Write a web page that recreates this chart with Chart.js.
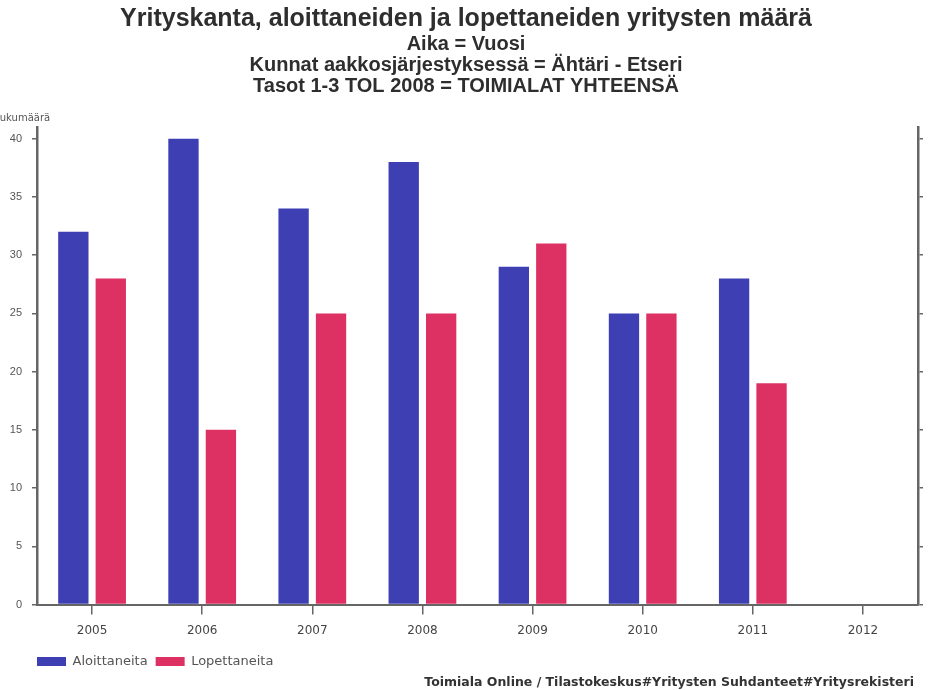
<!DOCTYPE html>
<html>
<head>
<meta charset="utf-8">
<script src="https://cdn.jsdelivr.net/npm/chart.js@4"></script>
<style>
  html, body { margin: 0; padding: 0; background: #fff; }
  #wrap { width: 932px; height: 690px; }
</style>
</head>
<body>
<div id="wrap"><canvas id="chart" width="932" height="690"></canvas></div>
<script>
const years = ["2005", "2006", "2007", "2008", "2009", "2010", "2011", "2012"];
const aloittaneita = [32, 40, 34, 38, 29, 25, 28, null];
const lopettaneita = [28, 15, 25, 25, 31, 25, 19, null];
const yMax = 41;
const yStep = 5;

const titleText = "Yrityskanta, aloittaneiden ja lopettaneiden yritysten määrä";
const subtitleLines = [
    "Aika = Vuosi",
    "Kunnat aakkosjärjestyksessä = Ähtäri - Etseri",
    "Tasot 1-3 TOL 2008 = TOIMIALAT YHTEENSÄ"
];
const sourceText = "Toimiala Online / Tilastokeskus#Yritysten Suhdanteet#Yritysrekisteri";

const axisColor = "#666";

// extra texts: unit label above the left axis, source line bottom right
const extraText = {
    id: "extraText",
    afterLayout(chart) {
        // line the legend up with the left axis
        chart.legend.left = 29;
    },
    afterDraw(chart) {
        const ctx = chart.ctx;
        ctx.save();
        ctx.fillStyle = "#555";
        ctx.font = "10px 'DejaVu Sans'";
        ctx.textAlign = "left";
        ctx.textBaseline = "middle";
        ctx.fillText("lukumäärä", -3, chart.chartArea.top - 9);
        ctx.fillStyle = "#333";
        ctx.font = "bold 12.5px 'DejaVu Sans'";
        ctx.textAlign = "right";
        ctx.fillText(sourceText, 914, 683);
        ctx.restore();
    }
};

const ctx = document.getElementById("chart").getContext("2d");

new Chart(ctx, {
    type: "bar",
    data: {
        labels: years,
        datasets: [{
            label: "Aloittaneita",
            data: aloittaneita,
            backgroundColor: "#3d3fb3",
            categoryPercentage: 0.68,
            barPercentage: 0.81
        }, {
            label: "Lopettaneita",
            data: lopettaneita,
            backgroundColor: "#dd3163",
            categoryPercentage: 0.68,
            barPercentage: 0.81
        }]
    },
    options: {
        responsive: false,
        animation: false,
        layout: {
            padding: { left: 0, right: 0, top: 0, bottom: 12 }
        },
        scales: {
            x: {
                offset: true,
                grid: {
                    offset: false,
                    drawOnChartArea: false,
                    drawTicks: true,
                    tickLength: 10,
                    color: axisColor,
                    lineWidth: 1.5
                },
                border: { color: axisColor, width: 2 },
                ticks: {
                    color: "#444",
                    padding: 9,
                    font: { family: "'DejaVu Sans'", size: 12 }
                }
            },
            y: {
                min: 0,
                max: yMax,
                afterFit: (scale) => { scale.width = 37; },
                grid: {
                    drawOnChartArea: false,
                    tickLength: 5,
                    color: axisColor,
                    lineWidth: 1.5
                },
                border: { color: axisColor, width: 2.5 },
                ticks: {
                    stepSize: yStep,
                    includeBounds: false,
                    color: "#555",
                    padding: 10,
                    font: { family: "'Liberation Sans'", size: 11 }
                }
            },
            y2: {
                position: "right",
                min: 0,
                max: yMax,
                afterFit: (scale) => { scale.width = 14; },
                grid: {
                    drawOnChartArea: false,
                    tickLength: 5,
                    color: axisColor,
                    lineWidth: 1.5
                },
                border: { color: axisColor, width: 2.5 },
                ticks: { stepSize: yStep, includeBounds: false, display: false }
            }
        },
        plugins: {
            title: {
                display: true,
                text: titleText,
                color: "#2e2e2e",
                font: { family: "'Liberation Sans'", size: 25, weight: "bold" },
                padding: { top: 4, bottom: 0 }
            },
            subtitle: {
                display: true,
                text: subtitleLines,
                color: "#2e2e2e",
                font: { family: "'Liberation Sans'", size: 20, weight: "bold", lineHeight: 1.05 },
                padding: { top: 0, bottom: 30 }
            },
            legend: {
                position: "bottom",
                align: "start",
                labels: {
                    boxWidth: 29,
                    boxHeight: 9,
                    padding: 8,
                    color: "#555",
                    font: { family: "'DejaVu Sans'", size: 13 }
                }
            },
            tooltip: { enabled: false }
        }
    },
    plugins: [extraText]
});
</script>
</body>
</html>
